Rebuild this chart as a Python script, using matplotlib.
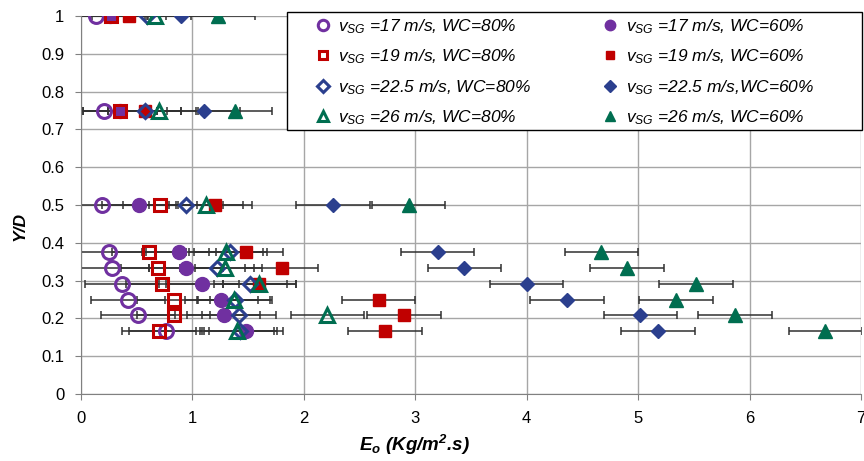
import matplotlib.pyplot as plt
from matplotlib.patches import Rectangle

plt.rcParams['font.family'] = ['Liberation Sans', 'DejaVu Sans']
plt.rcParams['mathtext.fontset'] = 'custom'
plt.rcParams['mathtext.rm'] = 'Liberation Sans'
plt.rcParams['mathtext.it'] = 'Liberation Sans:italic'
plt.rcParams['mathtext.bf'] = 'Liberation Sans:bold'
plt.rcParams['mathtext.bfit'] = 'Liberation Sans:italic:bold'

# Y/D levels (shared by every series)
yd = [1, 0.75, 0.5, 0.375, 0.333, 0.292, 0.25, 0.208, 0.167]

# E_o values per series, one per Y/D level
e_17_80 = [0.13, 0.21, 0.19, 0.25, 0.28, 0.37, 0.42, 0.51, 0.76]
e_17_60 = [0.26, 0.35, 0.52, 0.88, 0.94, 1.09, 1.26, 1.28, 1.48]
e_19_80 = [0.27, 0.35, 0.71, 0.61, 0.69, 0.73, 0.83, 0.83, 0.70]
e_19_60 = [0.43, 0.57, 1.20, 1.48, 1.80, 1.60, 2.67, 2.90, 2.73]
e_225_80 = [0.59, 0.57, 0.94, 1.34, 1.22, 1.52, 1.38, 1.42, 1.43]
e_225_60 = [0.90, 1.10, 2.26, 3.20, 3.44, 4.00, 4.36, 5.02, 5.18]
e_26_80 = [0.66, 0.70, 1.12, 1.30, 1.29, 1.60, 1.37, 2.21, 1.40]
e_26_60 = [1.23, 1.38, 2.94, 4.67, 4.90, 5.52, 5.34, 5.87, 6.68]
err = 0.33

purple = '#7030A0'
red = '#C00000'
blue = '#2B3F8E'
green = '#006E50'

series = [
    (e_17_80, r'$v_{SG}$ =17 m/s, WC=80%', 'o', purple, False, 10),
    (e_17_60, r'$v_{SG}$ =17 m/s, WC=60%', 'o', purple, True, 10),
    (e_19_80, r'$v_{SG}$ =19 m/s, WC=80%', 's', red, False, 8),
    (e_19_60, r'$v_{SG}$ =19 m/s, WC=60%', 's', red, True, 8.5),
    (e_225_80, r'$v_{SG}$ =22.5 m/s, WC=80%', 'D', blue, False, 7.5),
    (e_225_60, r'$v_{SG}$ =22.5 m/s,WC=60%', 'D', blue, True, 7.5),
    (e_26_80, r'$v_{SG}$ =26 m/s, WC=80%', '^', green, False, 10),
    (e_26_60, r'$v_{SG}$ =26 m/s, WC=60%', '^', green, True, 10),
]

fig = plt.figure(figsize=(8.64, 4.61), dpi=100)
ax = fig.add_axes([0.0938, 0.1453, 0.9027, 0.82])

handles = {}
for xs, lab, mk, col, filled, ms in series:
    ax.errorbar(xs, yd, xerr=err, fmt='none', ecolor='#303030', elinewidth=1.1,
                capsize=3, capthick=1.1, zorder=2)
    h, = ax.plot(xs, yd, linestyle='none', marker=mk, markersize=ms,
                 markeredgecolor=col, markeredgewidth=2.2 if not filled else 1,
                 markerfacecolor=col if filled else 'none', zorder=3, label=lab)
    handles[lab] = h

# legend box drawn separately so the entries can sit with wide side margins
box = Rectangle((0.2641, 0.6984), 0.7372, 0.3122, transform=ax.transAxes,
                facecolor='white', edgecolor='black', linewidth=1.0,
                clip_on=False, zorder=4)
ax.add_patch(box)

# legend: Excel fills rows, matplotlib fills columns
order = [0, 2, 4, 6, 1, 3, 5, 7]
hs = [handles[series[i][1]] for i in order]
leg = ax.legend(hs, [series[i][1] for i in order], ncol=2, loc='upper left',
                bbox_to_anchor=(0.2987, 0.9975), borderaxespad=0, borderpad=0,
                frameon=False, prop={'style': 'italic', 'size': 12.5},
                markerscale=0.75, handlelength=1.0, handletextpad=0.4,
                labelspacing=0.68, columnspacing=4.05)
leg.set_zorder(5)

ax.set_xlim(0, 7)
ax.set_ylim(0, 1)
ax.set_xticks(range(8))
ax.set_yticks([i / 10 for i in range(11)])
ax.set_yticklabels(['0', '0.1', '0.2', '0.3', '0.4', '0.5', '0.6', '0.7', '0.8', '0.9', '1'])
ax.grid(True, color='#A6A6A6', linewidth=1)
ax.set_axisbelow(True)
for s in ['top', 'right']:
    ax.spines[s].set_visible(False)
for s in ['left', 'bottom']:
    ax.spines[s].set_color('#808080')
ax.tick_params(direction='out', length=4, color='#808080', labelsize=12, pad=8)

ax.set_xlabel(r'$\mathbfit{E_o}$ $\mathbfit{(Kg/m^2}$.s)', fontsize=13.5,
              fontweight='bold', style='italic', labelpad=5, x=0.428)
ax.set_ylabel('Y/D', fontsize=12.5, fontweight='bold', style='italic',
              labelpad=10, y=0.444)

fig.savefig('out.png', dpi=100)
